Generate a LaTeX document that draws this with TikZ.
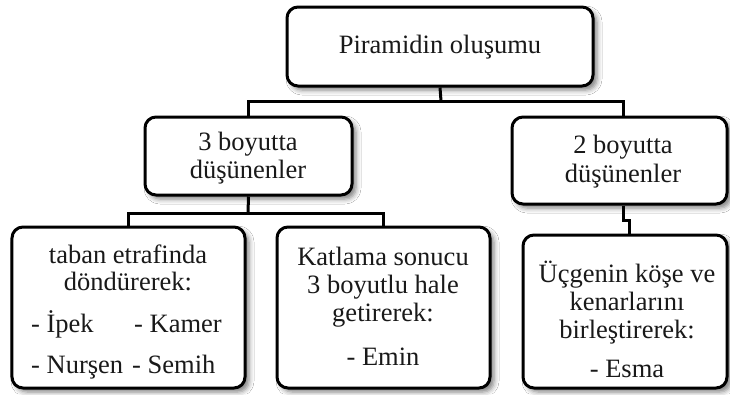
\documentclass[tikz,border=0pt]{standalone}
\usepackage{fontspec}
\setmainfont{Liberation Serif}
\usetikzlibrary{shadows.blur}
\begin{document}
\begin{tikzpicture}[x=1bp,y=-1bp,
  box/.style={draw=black, line width=3bp, rounded corners=11bp, fill=white, inner sep=0pt,
    blur shadow={shadow xshift=4bp, shadow yshift=-4bp, shadow blur radius=5bp, shadow opacity=50}},
  lbl/.style={anchor=base, inner sep=0pt, text=black!90, font=\fontsize{26.5bp}{28bp}\selectfont},
  lbll/.style={lbl, anchor=base west},
  link/.style={draw=black, line width=3bp}]
\useasboundingbox[fill=white] (0,0) rectangle (730,394);

% boxes
\node[box, minimum width=306bp, minimum height=79bp]  (top)     at (440,46.5)  {};
\node[box, minimum width=207bp, minimum height=78bp]  (three)   at (248.5,156) {};
\node[box, minimum width=215bp, minimum height=87bp]  (two)     at (619.5,160.5) {};
\node[box, minimum width=233bp, minimum height=161bp] (taban)   at (128.5,307.5) {};
\node[box, minimum width=213bp, minimum height=161bp] (katlama) at (383.5,307.5) {};
\node[box, minimum width=204bp, minimum height=153bp] (ucgen)   at (625,311.5) {};

% connectors
\coordinate (j1) at (441,101);
\coordinate (j2) at (248,213);
\coordinate (j3) at (629,220);
\coordinate (j4) at (623,101);
\draw[link] (top.south) -- (j1);
\draw[link] (three.north) |- (j4) -- (j4 |- two.north);
\draw[link] (three.south) -- (j2);
\draw[link] (taban.north) |- (j2) -| (katlama.north);
\draw[link] (j4 |- two.south) |- (j3) -- (j3 |- ucgen.north);

% texts
\node[lbl] (t0) at (440,53) {Piramidin oluşumu};

\node[lbl] (t31) at (248,150) {3 boyutta};
\node[lbl] (t32) at (248,178) {düşünenler};

\node[lbl] (t21) at (623,153) {2 boyutta};
\node[lbl] (t22) at (623,182) {düşünenler};

\node[lbl] (ta1) at (128,263) {taban etrafinda};
\node[lbl] (ta2) at (128,290) {döndürerek:};
\node[lbll] (ta3) at (31,332) {- İpek};
\node[lbll] (ta4) at (134,332) {- Kamer};
\node[lbll] (ta5) at (31,373) {- Nurşen};
\node[lbll] (ta6) at (132,373) {- Semih};

\node[lbl] (ka1) at (383,265) {Katlama sonucu};
\node[lbl] (ka2) at (383,293) {3 boyutlu hale};
\node[lbl] (ka3) at (383,321) {getirerek:};
\node[lbl] (ka4) at (383,365) {- Emin};

\node[lbl] (uc1) at (627,282) {Üçgenin köşe ve};
\node[lbl] (uc2) at (627,310) {kenarlarını};
\node[lbl] (uc3) at (627,338) {birleştirerek:};
\node[lbl] (uc4) at (627,377) {- Esma};
\end{tikzpicture}
\end{document}
